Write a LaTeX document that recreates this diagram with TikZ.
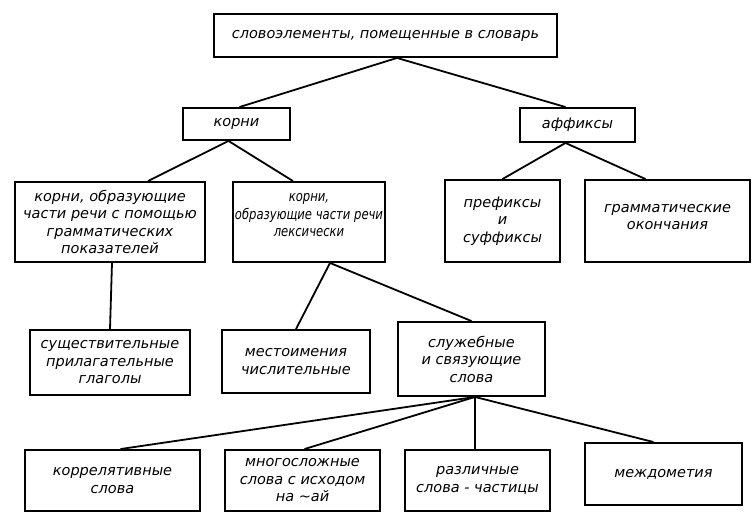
\documentclass[tikz,border=0pt]{standalone}
\usepackage{fontspec}
\setmainfont{DejaVu Sans}
\newfontfamily\narrowfont[FakeStretch=0.8]{DejaVu Sans}
\usetikzlibrary{calc}
\tikzset{
  box/.style={draw, line width=1.9pt, align=center, inner sep=1pt,
    font=\itshape\fontsize{14.5}{17.5}\selectfont},
  narrowbox/.style={box, font=\narrowfont\itshape\fontsize{14.5}{17.5}\selectfont},
  link/.style={line width=1.8pt}
}
\begin{document}
\begin{tikzpicture}[x=1pt,y=-1pt]
\useasboundingbox (0,0) rectangle (753,513);
\node[box, minimum width=343, minimum height=43] (root) at (385.5,35.5) {словоэлементы, помещенные в словарь};
\node[box, minimum width=107, minimum height=32] (korni) at (236.5,124) {корни};
\node[box, minimum width=115, minimum height=34] (affix) at (577.5,125) {аффиксы};
\node[box, minimum width=190, minimum height=80] (b1) at (110,222) {корни, образующие\\части речи с помощью\\грамматических\\показателей};
\node[narrowbox, minimum width=152, minimum height=80, text depth=14pt] (b2) at (309,222) {корни,\\образующие части речи\\лексически};
\node[box, minimum width=115, minimum height=82] (pref) at (502.5,221) {префиксы\\и\\суффиксы};
\node[box, minimum width=165, minimum height=82, text depth=8pt] (gram) at (667.5,221) {грамматические\\окончания};
\node[box, minimum width=160, minimum height=65] (sush) at (110,362.5) {существительные\\прилагательные\\глаголы};
\node[box, minimum width=148, minimum height=63] (mest) at (296,361.5) {местоимения\\числительные};
\node[box, minimum width=147, minimum height=74] (sluzh) at (471.5,359) {служебные\\и связующие\\слова};
\node[box, minimum width=175, minimum height=61] (korr) at (112.5,480.5) {коррелятивные\\слова};
\node[box, minimum width=155, minimum height=61] (mnog) at (302.5,480.5) {многосложные\\слова с исходом\\на \textasciitilde ай};
\node[box, minimum width=145, minimum height=61] (razl) at (477.5,480.5) {различные\\слова - частицы};
\node[box, minimum width=157, minimum height=62] (mezh) at (663.5,474) {междометия};

\draw[link] ([xshift=11.5]root.south) -- ([xshift=3]korni.north);
\draw[link] ([xshift=11.5]root.south) -- ([xshift=-12]affix.north);
\draw[link] ([xshift=-8]korni.south) -- ([xshift=38]b1.north);
\draw[link] ([xshift=-8]korni.south) -- ([xshift=-16]b2.north);
\draw[link] ([xshift=-12]affix.south) -- (pref.north);
\draw[link] ([xshift=-12]affix.south) -- ([xshift=-22]gram.north);
\draw[link] ([xshift=2]b1.south) -- (sush.north);
\draw[link] ([xshift=21]b2.south) -- (mest.north);
\draw[link] ([xshift=21]b2.south) -- (sluzh.north);
\draw[link] ([xshift=3.5]sluzh.south) -- ([xshift=8]korr.north);
\draw[link] ([xshift=3.5]sluzh.south) -- ([xshift=2]mnog.north);
\draw[link] ([xshift=3.5]sluzh.south) -- ([xshift=-2.5]razl.north);
\draw[link] ([xshift=3.5]sluzh.south) -- ([xshift=-10]mezh.north);
\end{tikzpicture}
\end{document}
